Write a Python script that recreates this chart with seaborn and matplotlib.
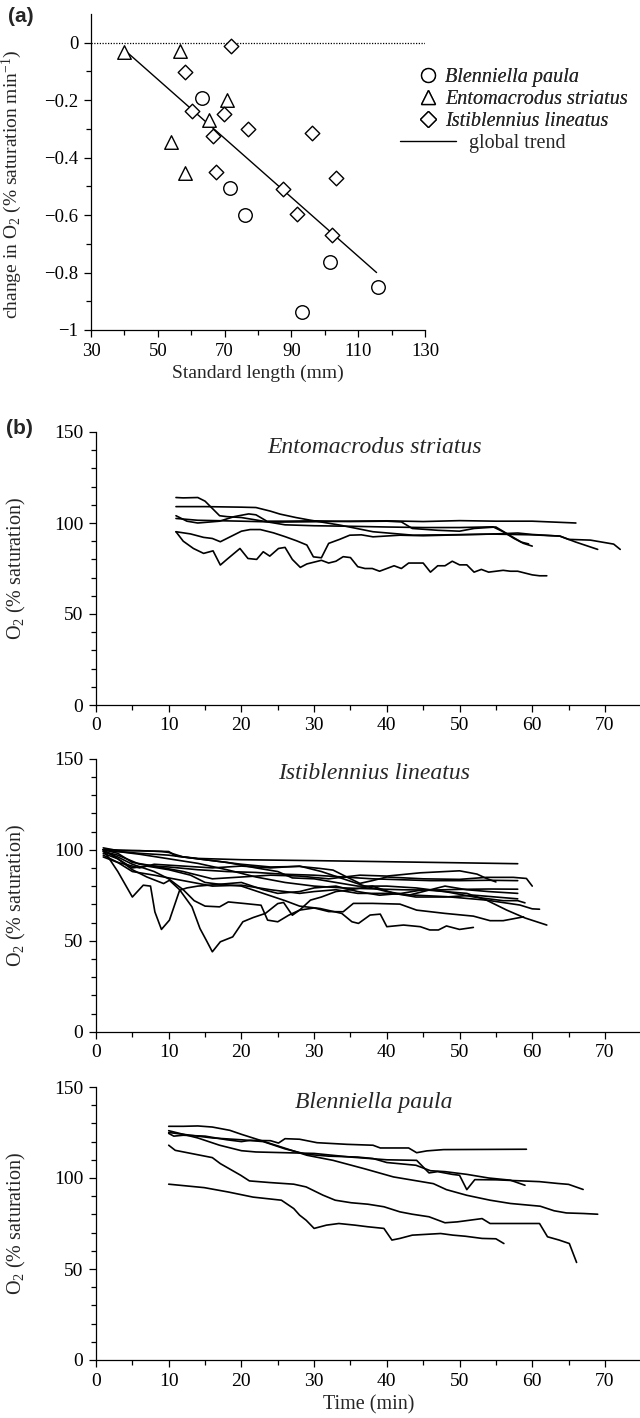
## oxygen draw-down by three blenny species: rate vs length (a) and O2 traces (b)
import matplotlib
matplotlib.use('Agg')
import matplotlib.pyplot as plt
import seaborn as sns
from pandas import DataFrame
from matplotlib.ticker import MultipleLocator, FixedLocator, FixedFormatter
from matplotlib.lines import Line2D

## panel (a) - standard length (mm) vs change in O2
bp_length = [63.1, 71.6, 76.0, 93.3, 101.6, 115.8]
bp_rate = [-0.192, -0.506, -0.599, -0.938, -0.762, -0.849]
es_length = [39.9, 56.5, 70.7, 65.3, 54.0, 58.2]
es_rate = [-0.031, -0.030, -0.200, -0.270, -0.344, -0.453]
il_length = [71.9, 58.0, 60.3, 69.9, 66.6, 76.9, 96.3, 67.4, 87.5, 91.7, 103.3, 102.1]
il_rate = [-0.012, -0.102, -0.237, -0.247, -0.324, -0.301, -0.314, -0.450, -0.510, -0.597, -0.471, -0.669]
trend_length = [40.0, 115.5]
trend_rate = [-0.025, -0.800]

species_names = ['Blenniella paula', 'Entomacrodus striatus', 'Istiblennius lineatus']
a_xticks = [30, 50, 70, 90, 110, 130]
a_yticks = [0, -0.2, -0.4, -0.6, -0.8, -1]
a_yticklabels = ['0', '\u22120.2', '\u22120.4', '\u22120.6', '\u22120.8', '\u22121']

## panel (b) - O2 (% saturation) over time (min), one list of (time, O2) per fish
es_fish1 = [(11, 114), (12, 113.8), (14, 114), (15, 112), (16, 108), (17, 104), (18, 103.5), (20, 103),
            (23, 101), (26, 99), (30, 98.5), (35, 98.2), (40, 97.8), (45, 97.5), (50, 97.5), (54.6, 97.9),
            (56, 95.2), (57.5, 91.5), (58.8, 88.8), (60, 87.3)]
es_fish2 = [(11, 109), (15, 109), (20, 108.7), (22, 108.5), (24, 106.5), (25.3, 104.9), (27.5, 103), (29.4, 101.6),
            (33.6, 98.8), (38.1, 95.2), (43.6, 93.3), (48, 93.5), (54.6, 93.9), (60, 93.5), (63.8, 92.8),
            (66, 89.5), (69, 85.5)]
es_fish3 = [(11, 104), (12.5, 101), (14, 100), (17, 101), (19, 103.5), (21, 105), (22, 104.5), (23.5, 101),
            (26, 101), (30, 101.2), (35, 100.8), (40, 101), (42, 100.6), (43.5, 97), (47, 96), (50, 95.5),
            (52, 97), (55, 97.8), (57, 93), (58.5, 89.5), (59.5, 88.5)]
es_fish4 = [(11, 102.5), (14, 101.5), (20, 101), (25, 100.5), (30, 100.7), (35, 101), (40, 101.2), (45, 100.8),
            (50, 101.3), (55, 101), (60, 101), (66, 100)]
es_fish5 = [(11, 95.2), (13, 94), (14.8, 92.1), (16, 91.5), (17.1, 89.7), (18.9, 93.3), (20, 95.5), (21.2, 96.4),
            (22.6, 96.4), (24.4, 94.6), (26, 92.5), (27.6, 90.2), (29, 87.9), (29.9, 81.4), (31, 80.9), (32, 88.8),
            (33.5, 91), (34.9, 93.3), (36.5, 93.5), (38.1, 92.4), (41.8, 93.3), (45, 93), (50, 93.5), (55, 94),
            (58, 94.5), (60, 93.7), (63.8, 92.8), (65, 91), (68, 90.6), (71.2, 88.4), (72.1, 85.5)]
es_fish6 = [(11, 95.2), (12, 90), (13.4, 86), (14.8, 83.3), (16.1, 84.7), (17.1, 76.9), (18, 80), (19.8, 86),
            (20.9, 80.5), (22.1, 80), (23, 84.2), (23.9, 81.8), (25.1, 86), (26, 86.6), (27, 80), (28.1, 75.6),
            (29, 77.5), (30, 78.5), (31, 79.5), (32, 78), (33, 79), (34, 81.5), (35, 81), (36, 76), (37, 75),
            (38, 75), (39, 73.5), (40, 75), (41, 76.5), (42, 75), (43, 78), (44, 78), (45, 78), (46, 73),
            (47, 76.5), (48, 76.5), (49, 79), (50, 77), (51, 77), (52, 73), (53, 74.5), (54, 73), (55, 73.5),
            (56, 74), (57, 73.5), (58, 73.5), (59, 72.5), (60, 71.5), (61, 71), (62, 71)]

il_fish1 = [(1, 100), (2, 100), (5, 99.5), (10, 99), (11, 96.5), (14, 95.2), (20, 94.5), (30, 94), (40, 93.4),
            (50, 92.8), (58, 92.3)]
il_fish2 = [(1, 101), (3, 99.5), (6, 99.5), (9, 99), (10, 98.5), (12, 96), (16, 94), (20, 92), (24, 90.5),
            (28, 90.8), (30.8, 89.7), (32.6, 88.8), (34.9, 84.2), (36.3, 81.5), (38, 83), (40, 85), (45, 84),
            (50, 83.7), (53.7, 84.8), (57.4, 84.8), (59.2, 84.2), (60, 80)]
il_fish3 = [(1, 99), (3, 97), (6, 92), (8, 91), (10, 90.5), (14, 89), (18, 88), (22, 87.5), (26, 86.5),
            (30, 86), (34, 85), (38, 84), (42, 83.5), (46, 83), (50, 83), (54, 83.2), (58, 83)]
il_fish4 = [(1, 100), (3, 98), (5, 93), (8, 91), (12, 88), (16, 84), (20, 85), (24, 86), (28, 85.5), (32, 84),
            (36.3, 86), (40, 85.5), (44.6, 87.3), (50, 88.4), (52.4, 86.6), (53.7, 84.2), (55, 82.3)]
il_fish5 = [(1, 100), (2, 99.5), (4, 98.5), (6, 97.5), (10, 95), (14, 92.5), (18, 89), (22, 85), (26, 82),
            (30, 80), (34, 79), (38, 78.5), (42, 78), (46, 77.8), (50, 78.2), (54, 78.4), (58, 78.3)]
il_fish6 = [(1, 98), (3, 95), (5, 90), (7, 91), (10, 89), (13, 86), (15, 82), (17, 81), (20, 82), (23, 78),
            (25, 76), (28, 77), (30, 79), (33, 80), (36, 77), (39, 75), (42, 76), (45, 78), (48, 77), (52, 74),
            (56, 72), (58, 72), (59, 70.8)]
il_fish7 = [(1, 97), (3, 93), (5, 88), (8, 86), (12, 83), (16, 80), (20, 80.5), (24, 78), (28, 76), (30, 77),
            (33, 78), (36, 76), (40, 76), (44, 75), (48.2, 74.2), (53.7, 72.3), (58.3, 69.6), (60, 67.5), (61, 67.3)]
il_fish8 = [(1, 100), (3, 99), (6, 98), (10, 97), (14, 95), (18, 93), (22, 90), (25, 88), (27, 84.5), (30, 84),
            (33, 82), (36, 80), (40, 80), (44, 79), (48, 77), (51, 76), (53.7, 72.3), (56.5, 66.8), (59, 62.5),
            (62, 58.6)]
il_fish9 = [(1, 99), (3, 96), (5, 92), (8, 88), (10, 84), (12, 78), (13.5, 72), (15, 69), (17, 68.6), (18.2, 71.3),
            (20.5, 70.4), (22.7, 69.5), (23.6, 61.3), (25, 60.4), (26.5, 64), (28, 66.8), (30, 68), (32, 66),
            (34, 65.9), (35.4, 70.5), (38, 70.5), (41.8, 70.1), (44.1, 66.8), (48, 65), (51.9, 63.5), (54.2, 61),
            (56, 61), (58.8, 63.1)]
il_fish10 = [(1, 100), (3, 88), (5, 74), (6.5, 80.5), (7.5, 80), (8.1, 65.8), (9, 56.2), (10.1, 61.3), (11.5, 77.7),
             (12.5, 79), (14, 80), (17, 81), (20, 80), (23, 76), (26, 72), (28, 69), (30.8, 67.7), (33.8, 65),
             (35.2, 60.4), (36.1, 59.5), (37.7, 64.1), (39.1, 64.6), (40, 57.7), (42.3, 58.6), (44.6, 57.7),
             (45.9, 55.9), (47.1, 55.9), (48.2, 58.1), (50, 56.2), (51.9, 57.3)]
il_fish11 = [(1, 100), (3, 95), (5, 89), (7, 85), (9.3, 81.4), (10.1, 83.2), (11.5, 78), (13.2, 68.6), (14.3, 56.7),
             (15.2, 50), (16, 43.9), (17.1, 49.4), (18.8, 52.1), (20.2, 60.4), (21.6, 62.7), (23.3, 65), (25, 70.4),
             (25.8, 71), (27, 64), (28, 66.8), (29.5, 72.3), (31, 74), (33, 77), (35, 78), (38, 80), (41, 76),
             (44, 74), (48, 74), (52, 75), (55, 74), (58, 73)]
il_fish12 = [(1, 96), (3, 93), (6, 90), (8, 92), (12, 91), (16, 90), (20, 91), (24, 90), (28, 91), (31, 88),
             (34, 84), (37, 80), (40, 77), (43, 75), (46, 78), (48, 80), (51, 78), (54, 77), (58, 76)]

bp_fish1 = [(10, 128.4), (12, 128.4), (14, 128.6), (16, 128), (18.4, 126.2), (20, 124), (22.6, 120.7), (25.5, 117),
            (29, 112.5), (32.6, 109.7), (37, 105), (40.9, 100.6), (46.4, 96.9), (48.2, 93.6), (51, 90.5),
            (54.2, 87.8), (57, 86), (61.1, 84.5), (63, 82), (64.7, 80.8), (67, 80.5), (69, 80.1)]
bp_fish2 = [(10, 125), (13, 123.5), (16, 122), (20, 121), (23, 120), (26, 116), (29, 113), (32, 112), (36, 111.5),
            (38.1, 110.7), (40, 108.5), (44, 107), (46, 104), (48, 103.5), (51, 102), (54, 100), (57, 98.8), (59, 96)]
bp_fish3 = [(10, 126), (14, 122), (17, 118), (20, 115), (22, 114.3), (25, 114), (30, 113.5), (35, 111.5),
            (40, 110), (44.1, 109.7), (45.8, 102.8), (47, 103.5), (49, 102), (50, 101.5), (51, 93.6), (52.1, 99.1),
            (55, 99), (58, 98.5), (61, 98), (63.5, 97), (65, 96.5), (67, 93.7)]
bp_fish4 = [(10, 124.5), (10.7, 123), (12, 123.5), (15, 123), (18, 121), (20, 120), (21.2, 120.7), (24, 120.5),
            (25.1, 119.2), (26, 121.6), (28, 121.3), (30.4, 119.4), (34.5, 118.5), (38.1, 118), (39.1, 116.5),
            (43, 116.5), (44.1, 113.9), (45.5, 114.9), (47.8, 115.6), (59.2, 115.8)]
bp_fish5 = [(10, 118), (10.9, 115.2), (16, 111.2), (17.1, 107.9), (19.9, 101.5), (21.1, 98.4), (23.9, 97.5),
            (27.2, 96.6), (28.9, 95.1), (31.2, 90.6), (32.9, 87.8), (35.1, 86.4), (37.4, 85.6), (39.6, 84.2),
            (41.8, 81.4), (43.5, 80.1), (45.8, 78.7), (48, 75.4), (49.7, 75.9), (53.1, 77.7), (54.2, 75),
            (56.4, 75), (61, 75), (62.1, 67.7), (63.7, 65.9), (65.1, 64), (66.1, 53.6)]
bp_fish6 = [(10, 96.6), (14.9, 94.7), (18.2, 92.3), (21.6, 89.5), (25.5, 87.8), (27.2, 83.2), (28, 79.6),
            (28.9, 76.8), (30, 72.3), (31.7, 74.1), (33.4, 75), (35.6, 74.1), (37.4, 73.2), (39.6, 72.3),
            (40.7, 65.9), (41.8, 66.8), (43.5, 68.6), (47.4, 69.5), (49.1, 68.6), (50.8, 68), (53.1, 66.8),
            (55, 66.6), (56.1, 64)]

b_xticks = [0, 10, 20, 30, 40, 50, 60, 70]
b_yticks = [0, 50, 100, 150]


def traces_to_frame(traces):
    rows = []
    for fish_id, trace in enumerate(traces):
        for t, o2 in trace:
            rows.append({'time': t, 'o2': o2, 'fish': fish_id})
    return DataFrame(rows)


def style_axes(ax, labelsize):
    sns.despine(ax=ax)
    ax.tick_params(which='major', direction='out', length=5, width=0.9, labelsize=labelsize, pad=4)
    ax.tick_params(which='minor', direction='out', length=3.5, width=0.9)
    for side in ['left', 'bottom']:
        ax.spines[side].set_linewidth(0.9)


def main():
    sns.set_style('ticks')
    plt.rcParams['font.family'] = ['Liberation Serif', 'DejaVu Serif']
    plt.rcParams['mathtext.fontset'] = 'custom'
    plt.rcParams['mathtext.rm'] = 'Liberation Serif'
    plt.rcParams['mathtext.it'] = 'Liberation Serif:italic'
    plt.rcParams['axes.edgecolor'] = 'black'
    plt.rcParams['xtick.color'] = 'black'
    plt.rcParams['ytick.color'] = 'black'

    fig = plt.figure(figsize=(6.4, 14.18), dpi=100)

    ## panel (a)
    ax_a = fig.add_axes([91 / 640, 1 - 330 / 1418, (425 - 91) / 640, (330 - 14) / 1418])
    df_a = DataFrame({
        'length': bp_length + es_length + il_length,
        'rate': bp_rate + es_rate + il_rate,
        'species': [species_names[0]] * len(bp_length) + [species_names[1]] * len(es_length)
                   + [species_names[2]] * len(il_length),
    })
    ax_a.plot([30, 130], [0, 0], ls=(0, (1, 1.2)), color='black', lw=0.9)
    ax_a.plot(trend_length, trend_rate, color='black', lw=1.0)
    marker_map = {species_names[0]: 'o', species_names[1]: '^', species_names[2]: 'D'}
    marker_size = {species_names[0]: 95, species_names[1]: 95, species_names[2]: 55}
    for name in species_names:
        sns.scatterplot(data=df_a[df_a['species'] == name], x='length', y='rate', marker=marker_map[name],
                        color='white', edgecolor='black', linewidth=1.0, s=marker_size[name],
                        legend=False, ax=ax_a, zorder=3)
    ax_a.set_xlim(30, 130)
    ax_a.set_ylim(-1, 0.1)
    ax_a.xaxis.set_major_locator(FixedLocator(a_xticks))
    ax_a.xaxis.set_minor_locator(MultipleLocator(10))
    ax_a.yaxis.set_major_locator(FixedLocator(a_yticks))
    ax_a.yaxis.set_major_formatter(FixedFormatter(a_yticklabels))
    ax_a.yaxis.set_minor_locator(FixedLocator([-0.1, -0.3, -0.5, -0.7, -0.9]))
    style_axes(ax_a, 13.5)
    ax_a.set_xlabel('Standard length (mm)', fontsize=14, labelpad=4)
    ax_a.set_ylabel('change in O$_2$ (% saturation min$^{-1}$)', fontsize=14)
    ax_a.yaxis.set_label_coords(-0.2, 0.46)

    ## legend: markers in one block, the trend line set a bit to the right
    legend_ms = {species_names[0]: 10, species_names[1]: 10, species_names[2]: 8}
    marker_handles = [Line2D([], [], ls='none', marker=marker_map[name], ms=legend_ms[name], mfc='white',
                             mec='black', mew=1.0) for name in species_names]
    leg1 = fig.legend(marker_handles, species_names, loc='upper left', bbox_to_anchor=(418 / 640, 1 - 68 / 1418),
                      frameon=False, handlelength=1.0, handletextpad=0.35, labelspacing=0.15, borderpad=0,
                      borderaxespad=0, prop={'style': 'italic', 'size': 14.5})
    fig.add_artist(leg1)
    fig.legend([Line2D([], [], color='black', lw=1.0)], ['global trend'], loc='upper left',
               bbox_to_anchor=(400 / 640, 1 - 134 / 1418), frameon=False, handlelength=2.8,
               handletextpad=0.65, borderpad=0, borderaxespad=0, prop={'size': 14.5})

    fig.text(8 / 640, 1 - 16 / 1418, '(a)', family='Liberation Sans', weight='bold', fontsize=15, va='center')
    fig.text(6 / 640, 1 - 428 / 1418, '(b)', family='Liberation Sans', weight='bold', fontsize=15, va='center')

    ## panel (b) - one axes per species
    panels = [
        ('Entomacrodus striatus', [es_fish1, es_fish2, es_fish3, es_fish4, es_fish5, es_fish6], 705),
        ('Istiblennius lineatus', [il_fish1, il_fish2, il_fish3, il_fish4, il_fish5, il_fish6, il_fish7,
                                   il_fish8, il_fish9, il_fish10, il_fish11, il_fish12], 1031.7),
        ('Blenniella paula', [bp_fish1, bp_fish2, bp_fish3, bp_fish4, bp_fish5, bp_fish6], 1360),
    ]
    for idx, (name, traces, y_zero) in enumerate(panels):
        ax = fig.add_axes([96 / 640, 1 - y_zero / 1418, 545.3 / 640, 273 / 1418])
        df_b = traces_to_frame(traces)
        sns.lineplot(data=df_b, x='time', y='o2', units='fish', estimator=None, sort=False,
                     color='black', lw=1.2, ax=ax)
        ax.set_xlim(0, 75)
        ax.set_ylim(0, 150)
        ax.xaxis.set_major_locator(FixedLocator(b_xticks))
        ax.xaxis.set_minor_locator(MultipleLocator(5))
        ax.yaxis.set_major_locator(FixedLocator(b_yticks))
        ax.yaxis.set_minor_locator(MultipleLocator(10))
        style_axes(ax, 14)
        ax.text(0.51, 0.945, name, transform=ax.transAxes, ha='center', va='center',
                style='italic', fontsize=17)
        ax.set_ylabel('O$_2$ (% saturation)', fontsize=14.5)
        ax.yaxis.set_label_coords(-0.125, 0.5)
        if idx == 2:
            ax.set_xlabel('Time (min)', fontsize=14.5, labelpad=4)
        else:
            ax.set_xlabel('')

    fig.savefig('out.png', dpi=100)
    return


if __name__ == '__main__':
    main()
